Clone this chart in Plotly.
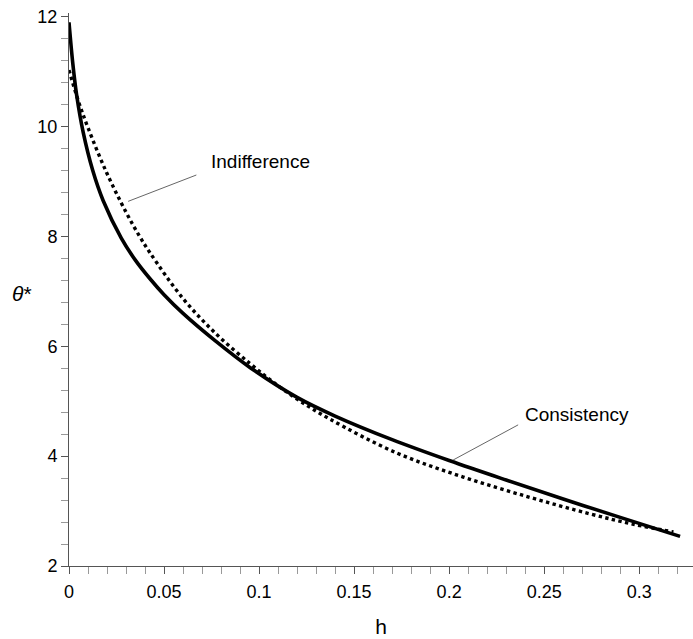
import plotly.graph_objects as go

# Consistency (solid)
h_cons = [0, 0.002, 0.004, 0.0075, 0.0125, 0.018, 0.0275, 0.035, 0.0425, 0.05, 0.06,
          0.0775, 0.095, 0.12, 0.14, 0.17, 0.2, 0.23, 0.26, 0.29, 0.3215]
theta_cons = [11.9, 11.15, 10.58, 9.89, 9.2, 8.65, 7.97, 7.565, 7.235, 6.94, 6.60,
              6.085, 5.62, 5.07, 4.73, 4.30, 3.92, 3.565, 3.22, 2.885, 2.54]

# Indifference (dotted)
h_indf = [0, 0.0047, 0.01, 0.0197, 0.0302, 0.0372, 0.0425, 0.06, 0.0776, 0.0951,
          0.1074, 0.12, 0.137, 0.1723, 0.2074, 0.2425, 0.274, 0.297, 0.318]
theta_indf = [11.03, 10.49, 9.98, 9.17, 8.43, 8.0, 7.71, 6.87, 6.22, 5.69,
              5.35, 5.04, 4.68, 4.06, 3.62, 3.25, 2.95, 2.76, 2.62]

FONT = "Liberation Sans, Arial, sans-serif"

fig = go.Figure()
fig.add_trace(go.Scatter(x=h_cons, y=theta_cons, mode="lines",
                         line=dict(color="black", width=3.6, shape="spline", smoothing=1.0),
                         showlegend=False, hoverinfo="skip"))
fig.add_trace(go.Scatter(x=h_indf, y=theta_indf, mode="lines",
                         line=dict(color="black", width=3.4, dash="dot", shape="spline", smoothing=1.0),
                         showlegend=False, hoverinfo="skip"))

# leader lines
fig.add_shape(type="line", x0=0.0311, y0=8.64, x1=0.067, y1=9.12,
              line=dict(color="#666666", width=1))
fig.add_shape(type="line", x0=0.2021, y0=3.93, x1=0.2363, y1=4.57,
              line=dict(color="#666666", width=1))

fig.add_annotation(x=0.0736, y=9.36, text="Indifference", showarrow=False,
                   xanchor="left", yanchor="middle", font=dict(size=19, color="black", family=FONT))
fig.add_annotation(x=0.2388, y=4.75, text="Consistency", showarrow=False,
                   xanchor="left", yanchor="middle", font=dict(size=19, color="black", family=FONT))

# y-axis title (horizontal)
fig.add_annotation(xref="paper", x=0, xshift=-47, y=6.97, yref="y", text="<i>θ</i>*",
                   showarrow=False, xanchor="center", yanchor="middle",
                   font=dict(size=21, color="black", family=FONT))

fig.update_layout(
    width=693, height=639,
    margin=dict(l=69, r=0, t=13, b=73),
    paper_bgcolor="white", plot_bgcolor="white",
    font=dict(family=FONT, color="black"),
    xaxis=dict(range=[0, 0.3283], dtick=0.05, tick0=0, showgrid=False, zeroline=False,
               showline=True, linecolor="#555555", linewidth=1,
               ticks="outside", ticklen=7, tickcolor="#555555", tickwidth=1,
               tickfont=dict(size=18, color="black"), ticklabelstandoff=2,
               minor=dict(dtick=0.01, tick0=0, ticks="outside", ticklen=7, tickcolor="#999999", showgrid=False),
               title=dict(text="h", font=dict(size=21, color="black"), standoff=18)),
    yaxis=dict(range=[2, 12.07], dtick=2, tick0=2, showgrid=False, zeroline=False,
               showline=True, linecolor="#555555", linewidth=1,
               ticks="outside", ticklen=7, tickcolor="#555555", tickwidth=1,
               tickfont=dict(size=18, color="black"),
               minor=dict(dtick=0.4, tick0=2, ticks="outside", ticklen=7, tickcolor="#999999", showgrid=False)),
)

fig.write_html("out.html")
